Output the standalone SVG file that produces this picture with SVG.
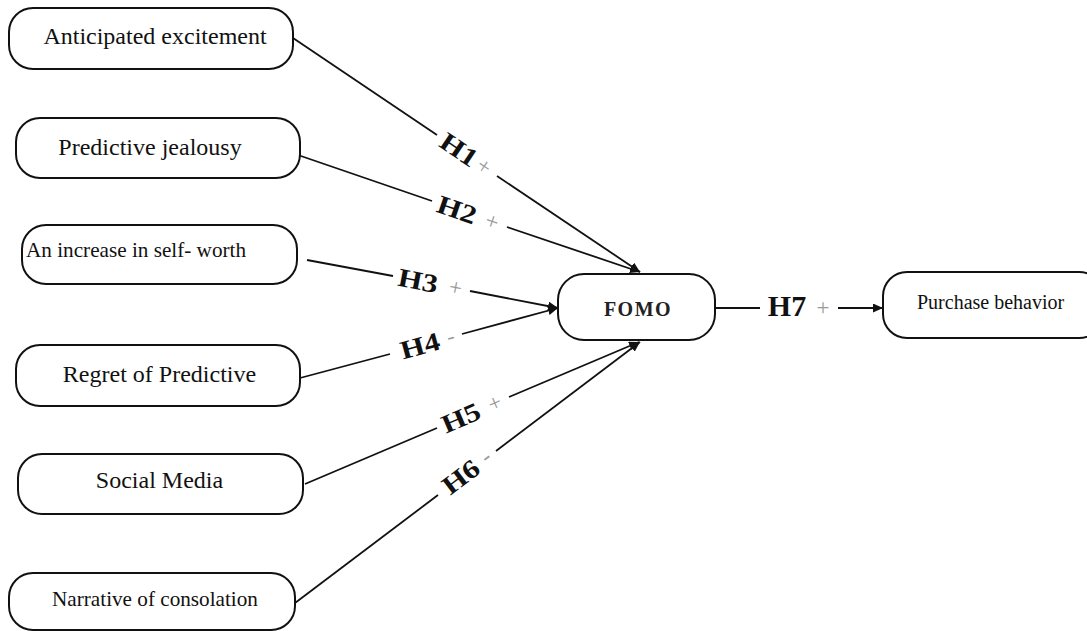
<svg xmlns="http://www.w3.org/2000/svg" width="1087" height="631" viewBox="0 0 1087 631">
<style>
.box{fill:#fff;stroke:#111;stroke-width:2}
.t{font-family:"Liberation Serif","Times New Roman",serif;font-size:24px;fill:#111}
.c{stroke:#111;stroke-width:1.8;fill:none}
.h{font-family:"Liberation Serif","Times New Roman",serif;font-weight:bold;font-size:26px;fill:#111;text-anchor:middle}
.s{font-family:"Liberation Serif","Times New Roman",serif;font-size:23px;fill:#999;text-anchor:middle}
</style>
<defs>
<marker id="arr" markerUnits="userSpaceOnUse" markerWidth="11" markerHeight="9" refX="10" refY="4.5" orient="auto">
<path d="M0,0 L10,4.5 L0,9 z" fill="#111"/>
</marker>
</defs>
<rect width="1087" height="631" fill="#fff"/>

<g id="connectors">
<line class="c" x1="293" y1="38" x2="437" y2="135"/>
<line class="c" x1="497" y1="176" x2="640" y2="272" marker-end="url(#arr)"/>
<line class="c" x1="298" y1="155" x2="432" y2="201"/>
<line class="c" x1="507" y1="227" x2="640" y2="272" marker-end="url(#arr)"/>
<line class="c" x1="307" y1="260" x2="393" y2="276"/>
<line class="c" x1="470" y1="291" x2="558" y2="308" marker-end="url(#arr)"/>
<line class="c" x1="300" y1="378" x2="390" y2="354"/>
<line class="c" x1="462" y1="334" x2="558" y2="308" marker-end="url(#arr)"/>
<line class="c" x1="305" y1="484" x2="437" y2="428"/>
<line class="c" x1="509" y1="397" x2="639" y2="342" marker-end="url(#arr)"/>
<line class="c" x1="295" y1="603" x2="438" y2="495"/>
<line class="c" x1="496" y1="451" x2="640" y2="342" marker-end="url(#arr)"/>
<line class="c" x1="715" y1="308" x2="760" y2="308"/>
<line class="c" x1="838" y1="308" x2="883" y2="308" marker-end="url(#arr)"/>
</g>

<g id="labels">
<g transform="translate(459,150) rotate(34)"><text class="h" x="0" y="8.5" textLength="40" lengthAdjust="spacingAndGlyphs">H1</text><text class="s" x="30" y="7">+</text></g>
<g transform="translate(457,210) rotate(18.9)"><text class="h" x="0" y="8.5" textLength="40" lengthAdjust="spacingAndGlyphs">H2</text><text class="s" x="37" y="7">+</text></g>
<g transform="translate(418,281) rotate(10.8)"><text class="h" x="0" y="8.5" textLength="40" lengthAdjust="spacingAndGlyphs">H3</text><text class="s" x="38" y="7">+</text></g>
<g transform="translate(420,346) rotate(-15.2)"><text class="h" x="0" y="8.5" textLength="40" lengthAdjust="spacingAndGlyphs">H4</text><text class="s" x="32" y="6">-</text></g>
<g transform="translate(461,418) rotate(-23.1)"><text class="h" x="0" y="8.5" textLength="40" lengthAdjust="spacingAndGlyphs">H5</text><text class="s" x="37" y="7">+</text></g>
<g transform="translate(461,477) rotate(-37.1)"><text class="h" x="0" y="8.5" textLength="40" lengthAdjust="spacingAndGlyphs">H6</text><text class="s" x="32" y="6">-</text></g>
<text class="h" x="787" y="316" style="font-size:30px">H7</text>
<text class="s" x="823" y="315">+</text>
</g>

<g id="n1"><rect class="box" x="9" y="8" width="284" height="61" rx="24"/><text class="t" x="155" y="44" text-anchor="middle">Anticipated excitement</text></g>
<g id="n2"><rect class="box" x="16" y="118" width="284" height="60" rx="24"/><text class="t" x="150" y="155" text-anchor="middle">Predictive jealousy</text></g>
<g id="n3"><rect class="box" x="22" y="225" width="275" height="59" rx="24"/><text class="t" x="26" y="257" style="font-size:21.2px">An increase in self- worth</text></g>
<g id="n4"><rect class="box" x="16" y="345" width="284" height="61" rx="24"/><text class="t" x="159.5" y="382" text-anchor="middle">Regret of Predictive</text></g>
<g id="n5"><rect class="box" x="18" y="454" width="285" height="60" rx="24"/><text class="t" x="159.5" y="488" text-anchor="middle">Social Media</text></g>
<g id="n6"><rect class="box" x="9" y="573" width="286" height="57" rx="24"/><text class="t" x="155" y="606" text-anchor="middle" style="font-size:21.2px">Narrative of consolation</text></g>
<g id="fomo"><rect class="box" x="558" y="274" width="157" height="66" rx="26"/><text class="t" x="638" y="316" text-anchor="middle" style="font-size:20px;font-weight:bold;letter-spacing:1.5px;fill:#222">FOMO</text></g>
<g id="purchase"><rect class="box" x="883" y="272" width="220" height="66" rx="24"/><text class="t" x="917" y="309" style="font-size:20px">Purchase behavior</text></g>
</svg>
